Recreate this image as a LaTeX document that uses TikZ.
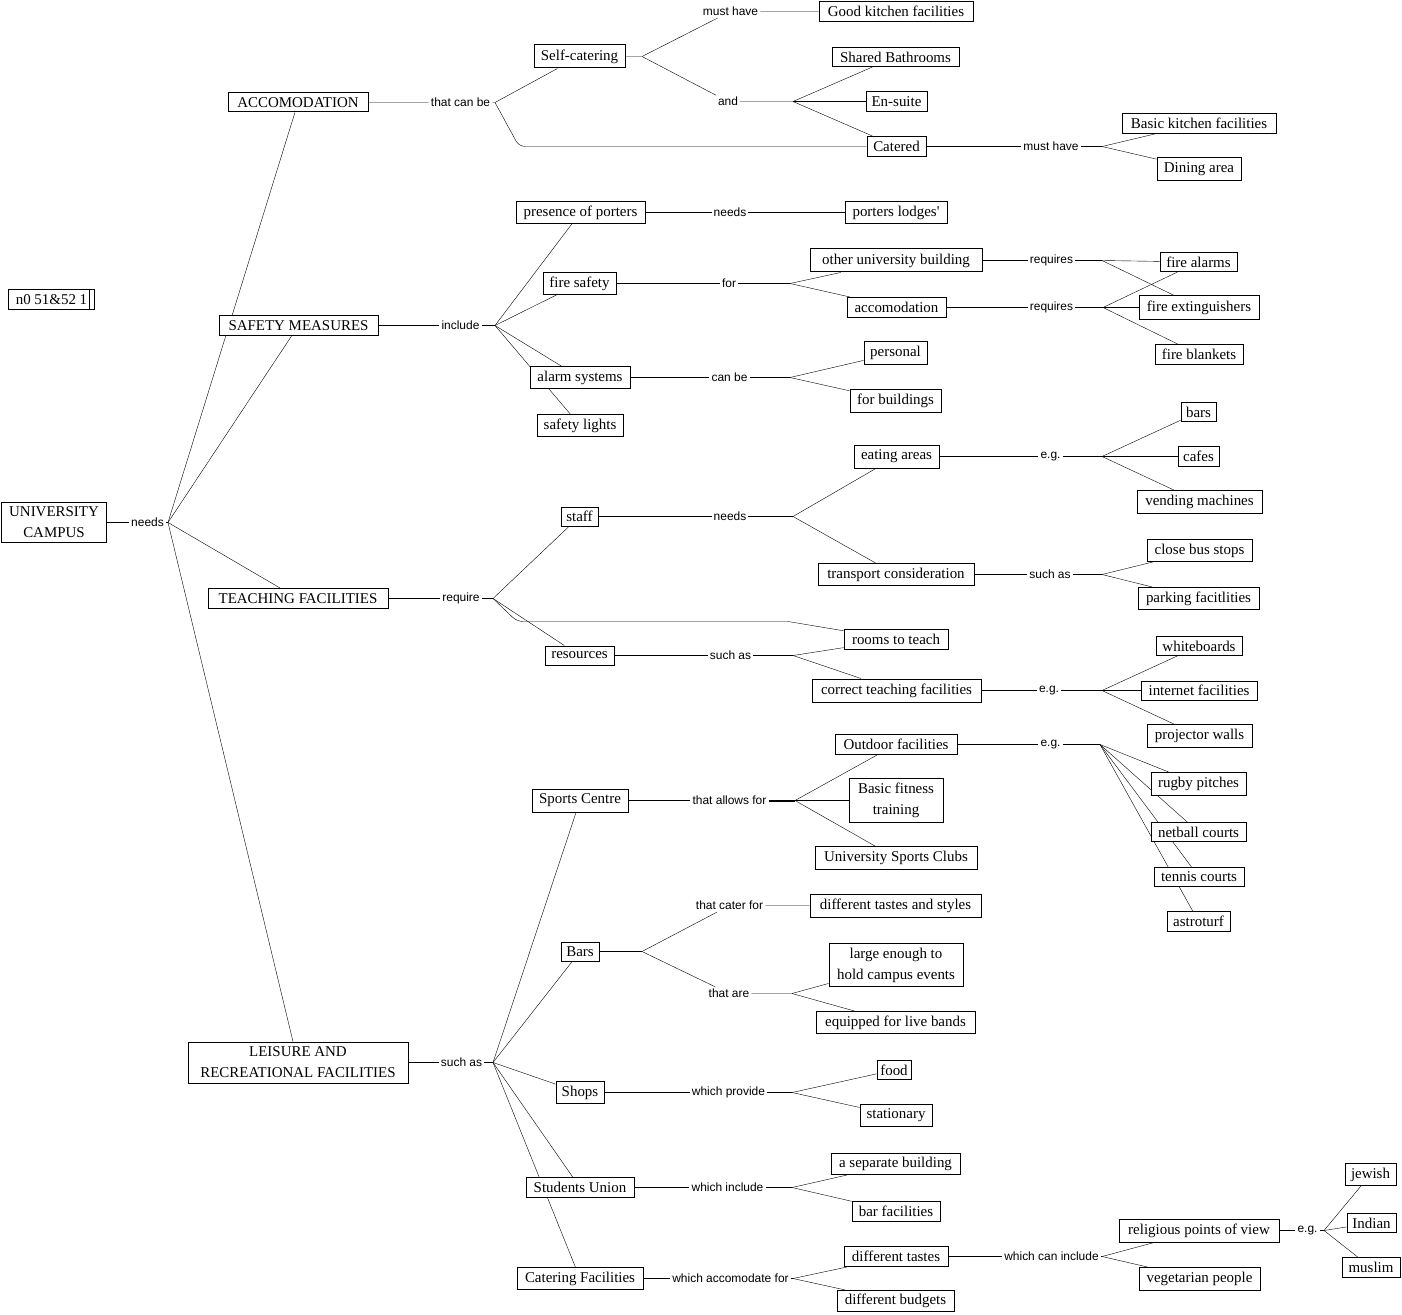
\documentclass[tikz,border=0pt]{standalone}
\usepackage{fontspec}
\setmainfont{Liberation Serif}
\setsansfont{Liberation Sans}
\usetikzlibrary{backgrounds}

\begin{document}
\begin{tikzpicture}[x=1bp,y=-1bp,
		cbox/.style={draw,fill=white,line width=1bp,inner xsep=3pt,inner ysep=1pt,font=\fontsize{15}{21}\selectfont},
		lnk/.style={inner sep=2pt,font=\sffamily\fontsize{12}{14}\selectfont},
		con/.style={line width=1.1bp}]
	\useasboundingbox (0,-0.5) rectangle (1402,1314.5);

	% concepts
	\node[cbox,minimum width=104bp,minimum height=40bp,align=center] (uc) at (54,522) {UNIVERSITY\\CAMPUS};
	\node[cbox,minimum width=140bp,minimum height=19bp] (acc) at (298,102) {ACCOMODATION};
	\node[cbox,minimum width=159bp,minimum height=20bp] (sm) at (298.5,325) {SAFETY MEASURES};
	\node[cbox,minimum width=180bp,minimum height=20bp] (tf) at (298,598) {TEACHING FACILITIES};
	\node[cbox,minimum width=220bp,minimum height=41bp,align=center] (lrf) at (298,1062) {LEISURE AND\\RECREATIONAL FACILITIES};
	\node[cbox,minimum width=85bp,minimum height=20bp] (n0) at (51.5,299) {n0 51\&52 1};
	\draw[line width=1bp] ([xshift=-5bp]n0.north east) -- ([xshift=-5bp]n0.south east);

	\node[cbox,minimum width=91bp,minimum height=23bp] (sc) at (579.5,56) {Self-catering};
	\node[cbox,minimum width=154bp,minimum height=20bp] (gkf) at (896,11) {Good kitchen facilities};
	\node[cbox,minimum width=127bp,minimum height=19bp] (sb) at (895.5,56.5) {Shared Bathrooms};
	\node[cbox,minimum width=61bp,minimum height=20bp] (es) at (896.5,101) {En-suite};
	\node[cbox,minimum width=59bp,minimum height=20bp] (cat) at (896.5,146) {Catered};
	\node[cbox,minimum width=154bp,minimum height=20bp] (bkf) at (1199,123) {Basic kitchen facilities};
	\node[cbox,minimum width=84bp,minimum height=23bp] (da) at (1199,168.5) {Dining area};

	\node[cbox,minimum width=129bp,minimum height=22bp] (pop) at (580.5,212) {presence of porters};
	\node[cbox,minimum width=102bp,minimum height=22bp] (pl) at (896,212) {porters lodges\textquotesingle};
	\node[cbox,minimum width=73bp,minimum height=22bp] (fs) at (579.5,283) {fire safety};
	\node[cbox,minimum width=172bp,minimum height=23bp] (oub) at (896,260) {other university building};
	\node[cbox,minimum width=99bp,minimum height=20bp] (acd) at (896.5,307) {accomodation};
	\node[cbox,minimum width=77bp,minimum height=19bp] (fal) at (1198.5,261.5) {fire alarms};
	\node[cbox,minimum width=120bp,minimum height=23bp] (fex) at (1199,307) {fire extinguishers};
	\node[cbox,minimum width=88bp,minimum height=20bp] (fbl) at (1199,354) {fire blankets};
	\node[cbox,minimum width=100bp,minimum height=22bp] (als) at (580,377) {alarm systems};
	\node[cbox,minimum width=63bp,minimum height=23bp] (pers) at (895.5,352.5) {personal};
	\node[cbox,minimum width=91bp,minimum height=23bp] (fbu) at (895.5,400.5) {for buildings};
	\node[cbox,minimum width=86bp,minimum height=22bp] (sl) at (580,425) {safety lights};

	\node[cbox,minimum width=37bp,minimum height=19bp] (staff) at (579.5,516) {staff};
	\node[cbox,minimum width=85bp,minimum height=23bp] (ea) at (896.5,456) {eating areas};
	\node[cbox,minimum width=156bp,minimum height=22bp] (tc) at (896,574) {transport consideration};
	\node[cbox,minimum width=35bp,minimum height=19bp] (bars) at (1198.5,411.5) {bars};
	\node[cbox,minimum width=41bp,minimum height=20bp] (cafes) at (1198.5,456) {cafes};
	\node[cbox,minimum width=125bp,minimum height=23bp] (vm) at (1199.5,501.5) {vending machines};
	\node[cbox,minimum width=105bp,minimum height=22bp] (cbs) at (1199.5,550) {close bus stops};
	\node[cbox,minimum width=121bp,minimum height=22bp] (pf) at (1198.5,598) {parking facitlities};
	\node[cbox,minimum width=69bp,minimum height=19bp] (res) at (579.5,655) {resources};
	\node[cbox,minimum width=104bp,minimum height=20bp] (rtt) at (896,639) {rooms to teach};
	\node[cbox,minimum width=169bp,minimum height=23bp] (ctf) at (896.5,690) {correct teaching facilities};
	\node[cbox,minimum width=86bp,minimum height=19bp] (wb) at (1199,645.5) {whiteboards};
	\node[cbox,minimum width=116bp,minimum height=19bp] (inf) at (1199,690) {internet facilities};
	\node[cbox,minimum width=105bp,minimum height=23bp] (pw) at (1199.5,735.5) {projector walls};

	\node[cbox,minimum width=96bp,minimum height=23bp] (spc) at (580,800) {Sports Centre};
	\node[cbox,minimum width=122bp,minimum height=20bp] (of) at (896,744) {Outdoor facilities};
	\node[cbox,minimum width=94bp,minimum height=44bp,align=center] (bft) at (896,800) {Basic fitness\\training};
	\node[cbox,minimum width=162bp,minimum height=23bp] (usc) at (896,857.5) {University Sports Clubs};
	\node[cbox,minimum width=95bp,minimum height=23bp] (rp) at (1198.5,783.5) {rugby pitches};
	\node[cbox,minimum width=95bp,minimum height=19bp] (nc) at (1198.5,831.5) {netball courts};
	\node[cbox,minimum width=90bp,minimum height=19bp] (tcs) at (1199,876.5) {tennis courts};
	\node[cbox,minimum width=63bp,minimum height=20bp] (ast) at (1198.5,921) {astroturf};
	\node[cbox,minimum width=38bp,minimum height=19bp] (brs) at (580,951) {Bars};
	\node[cbox,minimum width=171bp,minimum height=23bp] (dts) at (895.5,905) {different tastes and styles};
	\node[cbox,minimum width=134bp,minimum height=43bp,align=center] (le) at (896,964.5) {large enough to\\hold campus events};
	\node[cbox,minimum width=159bp,minimum height=22bp] (efl) at (895.5,1022) {equipped for live bands};
	\node[cbox,minimum width=48bp,minimum height=22bp] (shp) at (580,1092) {Shops};
	\node[cbox,minimum width=34bp,minimum height=19bp] (food) at (894,1069.5) {food};
	\node[cbox,minimum width=72bp,minimum height=22bp] (stat) at (896,1115) {stationary};
	\node[cbox,minimum width=108bp,minimum height=20bp] (su) at (580,1187) {Students Union};
	\node[cbox,minimum width=129bp,minimum height=21bp] (asb) at (895.5,1163.5) {a separate building};
	\node[cbox,minimum width=88bp,minimum height=20bp] (bf) at (896,1211) {bar facilities};
	\node[cbox,minimum width=126bp,minimum height=22bp] (cf) at (580,1278) {Catering Facilities};
	\node[cbox,minimum width=104bp,minimum height=20bp] (dt) at (896,1256) {different tastes};
	\node[cbox,minimum width=117bp,minimum height=21bp] (db) at (895.5,1300.5) {different budgets};
	\node[cbox,minimum width=160bp,minimum height=23bp] (rel) at (1199,1230) {religious points of view};
	\node[cbox,minimum width=121bp,minimum height=23bp] (veg) at (1199.5,1278.5) {vegetarian people};
	\node[cbox,minimum width=51bp,minimum height=22bp] (jew) at (1370.5,1174) {jewish};
	\node[cbox,minimum width=49bp,minimum height=19bp] (ind) at (1371.5,1222.5) {Indian};
	\node[cbox,minimum width=58bp,minimum height=20bp] (mus) at (1371,1267) {muslim};

	% linking phrases
	\node[lnk] (nds) at (147.5,522) {needs};
	\node[lnk] (tcb) at (460.5,102) {that can be};
	\node[lnk] (inc) at (460.5,325) {include};
	\node[lnk] (rq) at (461,598) {require};
	\node[lnk] (sa1) at (461.5,1062) {such as};
	\node[lnk] (mh1) at (730.5,11) {must have};
	\node[lnk] (lAnd) at (728,101) {and};
	\node[lnk] (mh2) at (1051,146) {must have};
	\node[lnk] (nd1) at (730,212) {needs};
	\node[lnk] (lFor) at (729,283) {for};
	\node[lnk] (rq1) at (1051.5,260) {requires};
	\node[lnk] (rq2) at (1051.5,307) {requires};
	\node[lnk] (cb) at (729.5,377) {can be};
	\node[lnk] (nd2) at (730,516) {needs};
	\node[lnk] (eg1) at (1050.5,456) {e.g.};
	\node[lnk] (sa2) at (1050,574) {such as};
	\node[lnk] (sa3) at (730.5,655) {such as};
	\node[lnk] (eg2) at (1049,690) {e.g.};
	\node[lnk] (taf) at (729.5,800) {that allows for};
	\node[lnk] (eg3) at (1050.5,744) {e.g.};
	\node[lnk] (tcf) at (729.5,905) {that cater for};
	\node[lnk] (ta) at (729,993) {that are};
	\node[lnk] (wp) at (728.5,1092) {which provide};
	\node[lnk] (wi) at (727.5,1187) {which include};
	\node[lnk] (waf) at (730.5,1278) {which accomodate for};
	\node[lnk] (wci) at (1051.5,1256) {which can include};
	\node[lnk] (eg4) at (1307.5,1230) {e.g.};

	% branch points
	\coordinate (ndsB) at (168,522);
	\coordinate (tcbB) at (495,102);
	\coordinate (ccA) at (519,146);
	\coordinate (incB) at (495,325);
	\coordinate (rqB) at (493,598);
	\coordinate (rtA) at (517,621);
	\coordinate (rtB) at (788,621);
	\coordinate (sa1B) at (493,1062);
	\coordinate (scB) at (642,56);
	\coordinate (andB) at (793,101);
	\coordinate (mh2B) at (1102,146);
	\coordinate (forB) at (790,283);
	\coordinate (rq1B) at (1102,260);
	\coordinate (rq2B) at (1103,307);
	\coordinate (cbB) at (790,377);
	\coordinate (nd2B) at (793,516);
	\coordinate (eg1B) at (1102,456);
	\coordinate (sa2B) at (1102,574);
	\coordinate (sa3B) at (793,655);
	\coordinate (eg2B) at (1102,690);
	\coordinate (tafB) at (795,800);
	\coordinate (eg3B) at (1100,744);
	\coordinate (brsB) at (642,951);
	\coordinate (taB) at (792,993);
	\coordinate (wpB) at (792,1092);
	\coordinate (wiB) at (792,1187);
	\coordinate (wafB) at (793,1278);
	\coordinate (wciB) at (1102,1256);
	\coordinate (eg4B) at (1324,1230);

	\begin{scope}[on background layer,con]
		\draw (uc) -- (nds) -- (ndsB);
		\foreach \t in {acc,sm,tf,lrf} \draw (ndsB) -- (\t);

		\draw (acc) -- (tcb) -- (tcbB) -- (sc);
		\draw[rounded corners=6bp] (tcbB) -- (ccA) -- (cat);
		\draw (sc) -- (scB) -- (mh1) -- (gkf);
		\draw (scB) -- (lAnd) -- (andB);
		\foreach \t in {sb,es,cat} \draw (andB) -- (\t);
		\draw (cat) -- (mh2) -- (mh2B);
		\foreach \t in {bkf,da} \draw (mh2B) -- (\t);

		\draw (sm) -- (inc) -- (incB);
		\foreach \t in {pop,fs,als,sl} \draw (incB) -- (\t);
		\draw (pop) -- (nd1) -- (pl);
		\draw (fs) -- (lFor) -- (forB);
		\foreach \t in {oub,acd} \draw (forB) -- (\t);
		\draw (oub) -- (rq1) -- (rq1B);
		\foreach \t in {fal,fex} \draw (rq1B) -- (\t);
		\draw (acd) -- (rq2) -- (rq2B);
		\foreach \t in {fal,fex,fbl} \draw (rq2B) -- (\t);
		\draw (als) -- (cb) -- (cbB);
		\foreach \t in {pers,fbu} \draw (cbB) -- (\t);

		\draw (tf) -- (rq) -- (rqB);
		\foreach \t in {staff,res} \draw (rqB) -- (\t);
		\draw[rounded corners=6bp] (rqB) -- (rtA) -- (rtB);
		\draw (rtB) -- (rtt);
		\draw (staff) -- (nd2) -- (nd2B);
		\foreach \t in {ea,tc} \draw (nd2B) -- (\t);
		\draw (ea) -- (eg1) -- (eg1B);
		\foreach \t in {bars,cafes,vm} \draw (eg1B) -- (\t);
		\draw (tc) -- (sa2) -- (sa2B);
		\foreach \t in {cbs,pf} \draw (sa2B) -- (\t);
		\draw (res) -- (sa3) -- (sa3B);
		\foreach \t in {rtt,ctf} \draw (sa3B) -- (\t);
		\draw (ctf) -- (eg2) -- (eg2B);
		\foreach \t in {wb,inf,pw} \draw (eg2B) -- (\t);

		\draw (lrf) -- (sa1) -- (sa1B);
		\foreach \t in {spc,brs,shp,su,cf} \draw (sa1B) -- (\t);
		\draw (spc) -- (taf);
		\draw[line width=2bp] (taf) -- (tafB);
		\foreach \t in {of,bft,usc} \draw (tafB) -- (\t);
		\draw (of) -- (eg3) -- (eg3B);
		\foreach \t in {rp,nc,tcs,ast} \draw (eg3B) -- (\t);
		\draw (brs) -- (brsB);
		\draw (brsB) -- (tcf) -- (dts);
		\draw (brsB) -- (ta) -- (taB);
		\foreach \t in {le,efl} \draw (taB) -- (\t);
		\draw (shp) -- (wp) -- (wpB);
		\foreach \t in {food,stat} \draw (wpB) -- (\t);
		\draw (su) -- (wi) -- (wiB);
		\foreach \t in {asb,bf} \draw (wiB) -- (\t);
		\draw (cf) -- (waf) -- (wafB);
		\foreach \t in {dt,db} \draw (wafB) -- (\t);
		\draw (dt) -- (wci) -- (wciB);
		\foreach \t in {rel,veg} \draw (wciB) -- (\t);
		\draw (rel) -- (eg4) -- (eg4B);
		\foreach \t in {jew,ind,mus} \draw (eg4B) -- (\t);
	\end{scope}
\end{tikzpicture}
\end{document}
